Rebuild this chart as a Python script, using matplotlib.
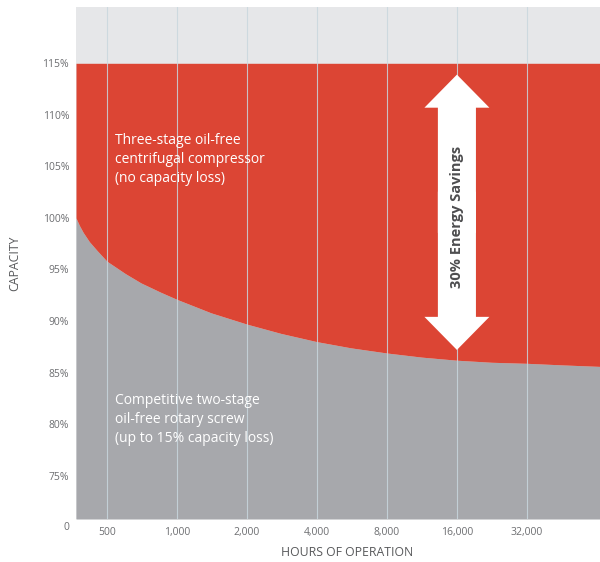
import matplotlib
matplotlib.use("Agg")
import matplotlib.pyplot as plt
from matplotlib.patches import FancyArrowPatch

plt.rcParams['font.family'] = ['Open Sans', 'DejaVu Sans']

# ---- data ----
tick_hours = [500, 1000, 2000, 4000, 8000, 16000, 32000]
tick_labels = ["500", "1,000", "2,000", "4,000", "8,000", "16,000", "32,000"]
ytick_vals = [75, 80, 85, 90, 95, 100, 105, 110, 115]
ytick_labels = ["75%", "80%", "85%", "90%", "95%", "100%", "105%", "110%", "115%"]

curve_hours = [368, 380, 395, 420, 455, 500, 600, 700, 850, 1000, 1400, 2000, 2800, 4000, 5600,
               8000, 11300, 16000, 22600, 32000, 45000, 66000]
curve_capacity = [100.0, 99.3, 98.6, 97.7, 96.8, 95.8, 94.6, 93.7, 92.8, 92.1, 90.8, 89.7, 88.8, 88.0,
                  87.4, 86.9, 86.5, 86.2, 86.0, 85.9, 85.75, 85.6]
centrifugal_capacity = 115
arrow_hours = 16000
arrow_top = 113.9
arrow_bottom = 87.2

RED = '#dc4534'
GRAY = '#a7a8ac'
LIGHT = '#e6e7e9'
TXT = '#6d6e71'

fig = plt.figure(figsize=(6.0, 5.62), dpi=100)
ax = fig.add_axes([76/600, 1-519/562, 524/600, (519-7)/562])
ax.set_facecolor(LIGHT)

xmin, xmax = 368, 66000
ymin, ymax = 70.8, 120.46
ax.set_xscale('log', base=2)
ax.set_xlim(xmin, xmax)
ax.set_ylim(ymin, ymax)

ax.fill_between(curve_hours, ymin, curve_capacity, color=GRAY, lw=0, zorder=1)
ax.fill_between(curve_hours, curve_capacity, centrifugal_capacity, color=RED, lw=0, zorder=1)

for h in tick_hours:
    ax.axvline(h, color='#c9d7de', lw=0.8, alpha=0.85, zorder=2)

for s in ax.spines.values():
    s.set_visible(False)

ax.set_xticks(tick_hours)
ax.set_xticklabels(tick_labels)
ax.xaxis.set_minor_locator(matplotlib.ticker.NullLocator())
ax.set_yticks(ytick_vals)
ax.set_yticklabels(ytick_labels)
ax.tick_params(axis='both', length=0, labelsize=7.5, labelcolor=TXT)
ax.tick_params(axis='x', pad=6)
ax.tick_params(axis='y', pad=5)

ax.text(-0.0135, 70, "0", transform=ax.get_yaxis_transform(), ha='right', va='center',
        fontsize=7.5, color=TXT, clip_on=False)

fig.text(347/600, 1-552/562, "HOURS OF OPERATION", ha='center', va='center',
         fontsize=8.8, color='#58595b')
fig.text(15/600, 1-263/562, "CAPACITY", ha='center', va='center', rotation=90,
         fontsize=8.8, color='#58595b')

ax.text(0.0745, 1-(133-7)/512, "Three-stage oil-free\ncentrifugal compressor\n(no capacity loss)",
        transform=ax.transAxes, ha='left', va='top', fontsize=10, color='white',
        linespacing=1.35, zorder=5)
ax.text(0.0745, 1-(393-7)/512, "Competitive two-stage\noil-free rotary screw\n(up to 15% capacity loss)",
        transform=ax.transAxes, ha='left', va='top', fontsize=10, color='white',
        linespacing=1.35, zorder=5)

mid = (arrow_top + arrow_bottom) / 2
style = "simple,head_length=23.8,head_width=46.8,tail_width=27.4"
for start, end in ((mid - 2, arrow_top), (mid + 2, arrow_bottom)):
    ax.add_patch(FancyArrowPatch((arrow_hours, start), (arrow_hours, end), arrowstyle=style,
                                 mutation_scale=1, color='white', lw=0, shrinkA=0, shrinkB=0,
                                 zorder=4))
ax.text(arrow_hours * 1.005, 100.1, "30% Energy Savings", rotation=90, ha='center', va='center',
        fontsize=10.5, fontweight='bold', color='#4d4d4f', zorder=5)

fig.savefig("out.png", dpi=100)
